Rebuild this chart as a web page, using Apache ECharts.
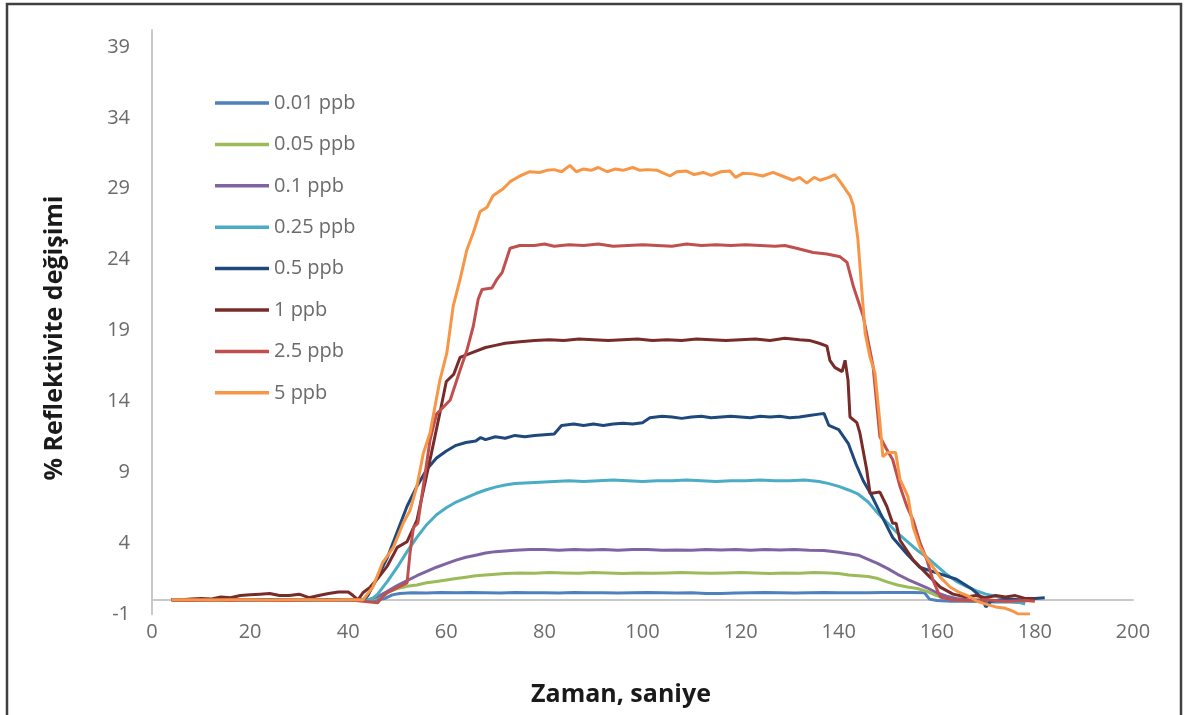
<!DOCTYPE html>
<html>
<head>
<meta charset="utf-8">
<script src="https://cdn.jsdelivr.net/npm/echarts@6/dist/echarts.min.js"></script>
<style>
  html, body { margin: 0; padding: 0; background: #ffffff; }
  #chart { width: 1185px; height: 715px; }
</style>
</head>
<body>
<div id="chart"></div>
<script>
// Reflectivity change (%) over time (s) for each concentration: [time, value]
const seriesNames = ['0.01 ppb', '0.05 ppb', '0.1 ppb', '0.25 ppb', '0.5 ppb', '1 ppb', '2.5 ppb', '5 ppb'];
const seriesColors = ['#4F81BD', '#9BBB59', '#8064A2', '#4BACC6', '#1F497D', '#772C2A', '#C0504D', '#F79646'];

const ppb001 = [[4,0],[8,0.02],[12,-0.02],[16,0],[20,0.02],[24,-0.02],[28,0],[32,0.02],[36,0],[40,-0.02],[44,0],[46,0.02],[47.5,0.1],[49,0.35],[50.5,0.45],[53,0.5],[56,0.48],[59,0.52],[62,0.5],[65,0.52],[68,0.5],[71,0.48],[74,0.52],[77,0.5],[80,0.5],[83,0.48],[86,0.52],[89,0.5],[92,0.5],[95,0.48],[98,0.5],[101,0.52],[104,0.5],[107,0.48],[110,0.5],[113,0.45],[116,0.45],[119,0.48],[122,0.5],[125,0.52],[128,0.5],[131,0.48],[134,0.5],[137,0.52],[140,0.5],[143,0.5],[146,0.5],[149,0.52],[152,0.52],[155,0.52],[157.5,0.5],[158.5,0.05],[160,-0.05],[163,-0.1],[166,-0.1],[169,-0.12],[172,-0.15],[175,-0.15],[178,-0.2]];

const ppb005 = [[4,0],[10,0],[16,0.02],[22,0],[28,0],[34,0.02],[40,0],[44,0],[45.5,0.1],[47,0.4],[48.5,0.6],[50,0.8],[52,0.95],[54,1.05],[56,1.2],[58,1.3],[60,1.4],[62,1.5],[64,1.6],[66,1.7],[68,1.75],[70,1.8],[72,1.85],[75,1.9],[78,1.88],[81,1.92],[84,1.9],[87,1.88],[90,1.92],[93,1.9],[96,1.85],[99,1.9],[102,1.88],[105,1.9],[108,1.92],[111,1.9],[114,1.88],[117,1.9],[120,1.92],[123,1.9],[126,1.85],[129,1.9],[132,1.88],[135,1.92],[138,1.9],[140,1.85],[142,1.75],[144,1.7],[146,1.65],[148,1.5],[150,1.25],[152,1.05],[154,0.9],[156,0.8],[158,0.6],[160,0.3],[162,0.1],[164,0],[168,-0.05],[172,-0.05],[176,-0.1],[178,-0.1]];

const ppb01 = [[4,0],[10,0],[16,0],[22,0.02],[28,0],[34,0],[40,0],[44,0],[45,0.1],[46.5,0.3],[48,0.6],[50,1.0],[52,1.35],[54,1.7],[56,2.0],[58,2.3],[60,2.55],[62,2.8],[64,3.0],[66,3.15],[68,3.3],[70,3.4],[72,3.45],[74,3.5],[77,3.55],[80,3.55],[83,3.5],[86,3.55],[89,3.52],[92,3.55],[95,3.5],[98,3.55],[101,3.55],[104,3.5],[107,3.52],[110,3.5],[113,3.55],[116,3.52],[119,3.55],[122,3.5],[125,3.55],[128,3.52],[131,3.55],[134,3.5],[137,3.48],[140,3.35],[142,3.25],[144,3.15],[146,2.85],[148,2.55],[150,2.2],[152,1.8],[154,1.45],[156,1.15],[158,0.85],[160,0.5],[162,0.25],[164,0.1],[166,0],[170,-0.05],[174,-0.05],[178,-0.1]];

const ppb025 = [[4,0],[10,0],[16,0],[22,0],[28,0],[34,0],[40,0],[44,0],[45,0.1],[46,0.4],[48,1.3],[50,2.3],[52,3.4],[54,4.4],[56,5.3],[58,6.0],[60,6.5],[62,6.9],[64,7.2],[66,7.5],[68,7.75],[70,7.95],[72,8.1],[74,8.2],[76,8.25],[79,8.3],[82,8.35],[85,8.4],[88,8.35],[91,8.4],[94,8.45],[97,8.4],[100,8.35],[103,8.4],[106,8.4],[109,8.45],[112,8.4],[115,8.35],[118,8.4],[121,8.4],[124,8.45],[127,8.4],[130,8.4],[133,8.45],[136,8.35],[138,8.2],[140,8.0],[142,7.75],[144,7.45],[146,6.9],[148,6.1],[150,5.4],[152,4.7],[154,4.1],[156,3.5],[158,3.0],[160,2.4],[162,1.8],[164,1.3],[166,0.95],[168,0.65],[170,0.4],[172,0.25],[174,0.1],[176,-0.1],[178,-0.3]];

const ppb05 = [[4,0],[10,-0.02],[16,0],[22,0],[28,-0.02],[34,0],[40,0],[43,0],[44,0.3],[46,1.6],[48,3.0],[50,4.8],[52,6.6],[54,8.0],[56,9.2],[58,10.0],[60,10.5],[62,10.9],[64,11.1],[66,11.2],[67,11.45],[68,11.3],[70,11.5],[72,11.4],[74,11.6],[76,11.5],[78,11.6],[80,11.65],[82,11.7],[83.5,12.3],[86,12.4],[88,12.3],[90,12.4],[92,12.3],[94,12.4],[96,12.45],[98,12.4],[100,12.5],[101.5,12.85],[104,12.95],[106,12.9],[108,12.8],[110,12.9],[112,12.95],[114,12.85],[116,12.9],[118,12.95],[120,12.9],[122,12.85],[124,12.95],[126,12.9],[128,12.95],[130,12.85],[132,12.9],[134,13.0],[136,13.1],[137,13.15],[138,12.3],[140,12.0],[142,11.0],[143.5,9.6],[145,8.4],[146.5,7.5],[148.5,6.1],[151,4.4],[154,3.2],[156.5,2.3],[160,1.9],[164,1.45],[167,0.8],[169,0.2],[170,-0.5],[171,-0.1],[174,0.05],[177,0],[180,0.1],[182,0.15]];

const ppb1 = [[4,0],[6,0],[8,0.05],[10,0.1],[12,0.05],[14,0.2],[16,0.15],[18,0.3],[20,0.35],[22,0.4],[24,0.45],[26,0.3],[28,0.3],[30,0.4],[32,0.15],[34,0.3],[36,0.45],[38,0.55],[40,0.55],[41,0.3],[42,0.0],[43,0.5],[44.5,0.9],[46,1.5],[48,2.4],[50,3.7],[52,4.1],[54,5.6],[55.5,8.0],[57,10.4],[58.7,13.2],[60,15.4],[61.5,15.9],[62.8,17.1],[65,17.4],[68,17.8],[70,17.95],[72,18.1],[75,18.2],[78,18.3],[81,18.35],[84,18.3],[87,18.4],[90,18.35],[93,18.3],[96,18.35],[99,18.4],[102,18.3],[105,18.35],[108,18.3],[111,18.4],[114,18.35],[117,18.3],[120,18.35],[123,18.4],[126,18.3],[129,18.45],[132,18.35],[134,18.3],[136,18.1],[137.6,17.9],[138.2,16.9],[139.2,16.4],[140.7,16.1],[141.3,16.9],[141.9,15.5],[142.3,12.9],[143.7,12.5],[144.3,11.8],[145.7,9.2],[146.4,7.5],[148.4,7.6],[149.8,6.6],[151,5.4],[151.7,5.4],[152.5,4.2],[155.2,2.8],[158.6,1.6],[160.7,0.9],[163.3,0.4],[166,0.2],[168,0.3],[170,0.15],[172,0.3],[174,0.2],[176,0.3],[178,0.1],[180,0.1]];

const ppb25 = [[4,0],[8,-0.05],[12,0],[16,-0.05],[20,0],[24,-0.05],[28,-0.05],[32,0],[36,-0.05],[40,0],[43,-0.1],[46,-0.2],[47,0.2],[48,0.5],[50,0.85],[52,1.2],[52.6,3.3],[53.3,5.1],[54.2,5.4],[55.3,8.0],[56.7,11.3],[58,13.1],[60.8,14.1],[62.8,16.2],[64.2,17.6],[65.5,19.3],[66.5,21.2],[67.3,21.9],[69.3,22.0],[70.3,22.6],[71.4,23.1],[73,24.8],[75,25.0],[78,25.0],[80,25.1],[82,24.95],[85,25.05],[88,25.0],[91,25.1],[94,24.95],[97,25.0],[100,25.05],[103,25.0],[106,24.95],[109,25.1],[112,25.0],[115,25.05],[118,25.0],[121,25.05],[124,25.0],[127,24.95],[129,25.0],[131.4,24.8],[134.8,24.5],[137.6,24.4],[140.3,24.2],[141.7,23.8],[143,22.1],[145,20.0],[147,16.5],[148.4,11.5],[149.8,10.6],[151,9.9],[152.5,8.0],[153.9,6.6],[155.2,5.6],[156.6,4.0],[158,2.8],[159.2,1.4],[160.7,0.2],[163,0],[166,-0.05],[170,0],[174,-0.1],[178,-0.05],[180,-0.1]];

const ppb5 = [[4,0],[8,0],[12,-0.02],[16,0],[20,0],[24,-0.02],[28,0],[32,0],[36,-0.02],[40,0],[43,0],[45,0.9],[47,2.6],[49.2,3.7],[51.2,5.4],[52.6,6.3],[54,8.0],[55.3,10.3],[56.7,11.8],[58.7,15.5],[60.1,17.4],[61.4,20.7],[62.8,22.6],[64.2,24.7],[65.5,25.9],[66.9,27.4],[68.3,27.7],[69.5,28.5],[71.6,29.0],[73,29.5],[75,29.9],[77,30.2],[79,30.15],[80.5,30.3],[82,30.35],[83.5,30.2],[85.2,30.65],[86.5,30.2],[88,30.4],[89.5,30.3],[91,30.5],[92.8,30.2],[94.5,30.4],[96,30.3],[98,30.5],[99.5,30.3],[101,30.35],[103,30.3],[105.6,29.9],[107,30.2],[109,30.25],[110.5,30.0],[112.4,30.15],[114,29.95],[116,30.2],[117.8,30.25],[119,29.8],[120.5,30.1],[122.5,30.05],[124.5,29.9],[126.6,30.15],[128.5,29.9],[130.7,29.6],[132,29.8],[133.5,29.4],[135,29.8],[136.2,29.6],[138,29.8],[139.2,30.0],[140.3,29.5],[142.3,28.5],[143,27.8],[143.9,25.5],[144.7,21.9],[145.4,18.8],[146.4,17.1],[147.4,16.0],[147.8,14.6],[148.4,12.5],[149,10.1],[150,10.4],[151.6,10.4],[152.5,8.5],[154.1,7.3],[155.2,5.1],[156.6,3.7],[158.6,2.6],[160.7,1.6],[162.7,0.9],[164.7,0.5],[166.8,0.2],[168.2,-0.1],[170,-0.3],[172,-0.5],[174,-0.6],[175.5,-0.8],[176.6,-1.0],[179,-1.0]];

const seriesData = [ppb001, ppb005, ppb01, ppb025, ppb05, ppb1, ppb25, ppb5];

const xTitle = 'Zaman, saniye';
const yTitle = '% Reflektivite değişimi';

const FONT = '"Open Sans", "Liberation Sans", sans-serif';
const chart = echarts.init(document.getElementById('chart'), null, { renderer: 'canvas' });

chart.setOption({
  animation: false,
  backgroundColor: '#ffffff',
  grid: { left: 152, right: 52, top: 30, bottom: 101, containLabel: false },
  legend: {
    orient: 'vertical',
    left: 210,
    top: 87,
    icon: 'rect',
    itemWidth: 54,
    itemHeight: 3.5,
    itemGap: 19.4,
    textStyle: { color: '#6b6b6b', fontSize: 20, fontFamily: FONT, lineHeight: 22 },
    data: seriesNames
  },
  xAxis: {
    type: 'value',
    min: 0,
    max: 200,
    interval: 20,
    axisLine: { onZero: true, lineStyle: { color: '#c9c9c9', width: 2 } },
    axisTick: { show: false },
    splitLine: { show: false },
    axisLabel: { color: '#6b6b6b', fontSize: 20, fontFamily: FONT, margin: 8 }
  },
  yAxis: {
    type: 'value',
    min: -1,
    max: 40.2,
    interval: 5,
    axisLine: { show: true, lineStyle: { color: '#c9c9c9', width: 2 } },
    axisTick: { show: false },
    splitLine: { show: false },
    axisLabel: { color: '#6b6b6b', fontSize: 20, fontFamily: FONT, margin: 22, showMaxLabel: false }
  },
  graphic: [
    {
      type: 'rect',
      shape: { x: 7, y: 4, width: 1174, height: 740 },
      style: { fill: null, stroke: '#404040', lineWidth: 2.5 },
      silent: true
    },
    {
      type: 'text',
      x: 621, y: 695,
      style: { text: xTitle, fill: '#1a1a1a', font: 'bold 25px ' + FONT, textAlign: 'center', textVerticalAlign: 'middle' }
    },
    {
      type: 'text',
      x: 55, y: 338,
      rotation: Math.PI / 2,
      style: { text: yTitle, fill: '#1a1a1a', font: 'bold 25px ' + FONT, textAlign: 'center', textVerticalAlign: 'middle' }
    }
  ],
  series: seriesNames.map((name, i) => ({
    name: name,
    type: 'line',
    data: seriesData[i],
    showSymbol: false,
    smooth: false,
    lineStyle: { color: seriesColors[i], width: 3 },
    itemStyle: { color: seriesColors[i] }
  }))
});
</script>
</body>
</html>
